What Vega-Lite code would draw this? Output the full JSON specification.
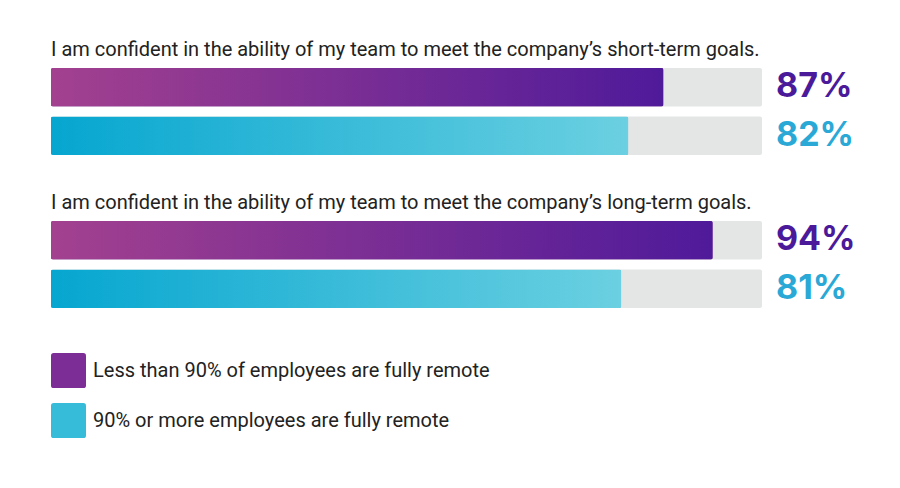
{
  "$schema": "https://vega.github.io/schema/vega-lite/v6.json",
  "background": "white",
  "padding": {"left": 51, "top": 40, "right": 0, "bottom": 0},
  "data": {
    "values": [
      {"question": "I am confident in the ability of my team to meet the company’s short-term goals.", "group": "Less than 90% of employees are fully remote", "value": 0.87},
      {"question": "I am confident in the ability of my team to meet the company’s short-term goals.", "group": "90% or more employees are fully remote", "value": 0.82},
      {"question": "I am confident in the ability of my team to meet the company’s long-term goals.", "group": "Less than 90% of employees are fully remote", "value": 0.94},
      {"question": "I am confident in the ability of my team to meet the company’s long-term goals.", "group": "90% or more employees are fully remote", "value": 0.81}
    ]
  },
  "facet": {
    "row": {
      "field": "question",
      "type": "nominal",
      "sort": [
        "I am confident in the ability of my team to meet the company’s short-term goals.",
        "I am confident in the ability of my team to meet the company’s long-term goals."
      ],
      "header": {
        "title": null,
        "labelOrient": "top",
        "labelAnchor": "start",
        "labelAngle": 0,
        "labelAlign": "left",
        "labelFont": "Roboto",
        "labelFontSize": 20,
        "labelColor": "#222222",
        "labelLimit": 0,
        "labelPadding": -12
      }
    }
  },
  "spacing": {"row": 38},
  "spec": {
    "width": 711,
    "height": 87,
    "encoding": {
      "y": {
        "field": "group",
        "type": "nominal",
        "sort": ["Less than 90% of employees are fully remote", "90% or more employees are fully remote"],
        "scale": {"paddingInner": 0.21, "paddingOuter": 0},
        "axis": null
      }
    },
    "layer": [
      {
        "mark": {"type": "bar", "color": "#e4e5e5", "cornerRadius": 2},
        "encoding": {
          "x": {"datum": 0, "type": "quantitative", "scale": {"domain": [0, 1.01], "nice": false, "zero": true}, "axis": null},
          "x2": {"value": "width"}
        }
      },
      {
        "mark": {"type": "bar", "cornerRadius": 2},
        "encoding": {
          "x": {"field": "value", "type": "quantitative", "axis": null},
          "color": {
            "field": "group",
            "type": "nominal",
            "scale": {
              "domain": ["Less than 90% of employees are fully remote", "90% or more employees are fully remote"],
              "range": ["#7c2e96", "#36bbd9"]
            },
            "legend": {
              "title": null,
              "orient": "bottom",
              "direction": "vertical",
              "offset": 45,
              "symbolType": "M-1,-0.85Q-1,-1,-0.85,-1L0.85,-1Q1,-1,1,-0.85L1,0.85Q1,1,0.85,1L-0.85,1Q-1,1,-1,0.85Z",
              "symbolSize": 1225,
              "symbolStrokeWidth": 0,
              "symbolOpacity": 1,
              "labelFont": "Roboto",
              "labelFontSize": 20,
              "labelColor": "#222222",
              "labelOffset": 7,
              "labelLimit": 0,
              "rowPadding": 15
            }
          }
        }
      },
      {
        "mark": {"type": "bar", "cornerRadius": 2},
        "encoding": {
          "x": {"field": "value", "type": "quantitative", "axis": null},
          "fill": {
            "condition": {
              "test": "datum.group === 'Less than 90% of employees are fully remote'",
              "value": {"gradient": "linear", "x1": 0, "y1": 0, "x2": 1, "y2": 0, "stops": [{"offset": 0, "color": "#a3418f"}, {"offset": 1, "color": "#4f1a9a"}]}
            },
            "value": {"gradient": "linear", "x1": 0, "y1": 0, "x2": 1, "y2": 0, "stops": [{"offset": 0, "color": "#06a6d0"}, {"offset": 1, "color": "#6bd0e1"}]}
          }
        }
      },
      {
        "mark": {"type": "text", "font": "Inter", "fontWeight": "bold", "fontSize": 34, "align": "left", "baseline": "middle", "dx": 14},
        "encoding": {
          "x": {"value": "width"},
          "text": {"field": "value", "type": "quantitative", "format": ".0%"},
          "color": {
            "condition": {"test": "datum.group === 'Less than 90% of employees are fully remote'", "value": "#4a1a9a"},
            "value": "#2aa8d6"
          }
        }
      }
    ]
  },
  "config": {
    "view": {"stroke": null},
    "font": "Roboto"
  }
}
